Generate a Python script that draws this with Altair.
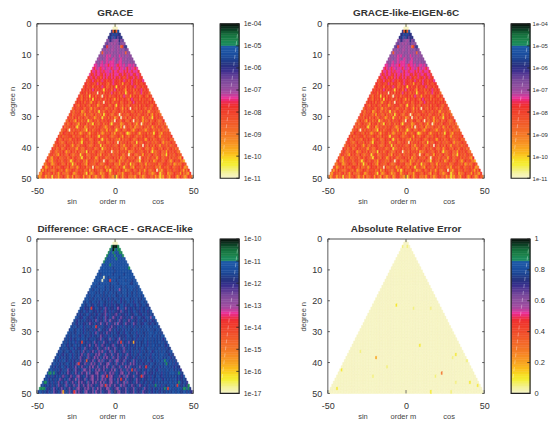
import altair as alt
import pandas as pd

# Colour bar, bottom to top (64 bands)
PALETTE = ["#f6f4c4","#f5f3b0","#f4f29a","#f3f07e","#f3ef5c","#f4ee3c","#f5e92c","#f7e226",
"#f9d520","#fbc81c","#fbbb1c","#fab01d","#f9a61f","#f89e20","#f89522","#f78d23",
"#f68525","#f57e26","#f57727","#f47028","#f36a28","#f36429","#f25e29","#f2582a",
"#f1522a","#f14c2b","#f0462b","#f0402c","#ef3a2c","#ef342d","#ee2f36","#ee2c50",
"#ec2d78","#e8329a","#c7409c","#ac479e","#9e4b9f","#954d9f","#8d4e9e","#854c9d",
"#7a479a","#6e4298","#5f3c95","#503692","#3f3190","#322f8a","#2b3183","#273683",
"#223c8a","#1f4592","#1d4b9a","#1c4f9f","#1c52a2","#1d56a5","#1e5aa8","#1a8a5c",
"#1b8a58","#1a8048","#187a44","#15703c","#115c33","#0e4528","#0b2e1c","#081a10"]

# One letter per cell -> colour band
KEY = {"c":0,"l":3,"y":6,"a":12,"o":19,"f":23,"r":26,"R":29,"p":33,"m":35,"u":38,"v":42,
       "i":46,"d":48,"b":51,"B":53,"g":56,"k":63}
DIFF_KEY = dict(KEY, u=45, m=40, v=47, p=37, o=26)

# Estimated by eye, row by row (degree n = 0..49, order m = -n..n)
GRACE_ROWS = [
"c","ccc","ifkfb","iibibii","iibvbivii","uuivu umuiu v","uvuum umuuv uuu",
"vvRmu umuum uoRvi","uuumu ummuu muuuu vu","ufmuu mumuu umuum ufuu",
"uuumu pmpuu muupu muumu u","umuuu mpmuu pmuum puumu uuu","muump umpmp ppmum ppumu umuuu",
"ppmup pmppR pppmp Rppmp umppm pu","pRpmp Rppmp ppRpm ppRpp mpRpm ppRp",
"RppRp pRpRp ppmpR ppRpp pRpRp pRppp R","pRRpR ppRRp RppRp RpppR RpRRp RppRR ppR",
"RRpRR pRRfR pRpRR pRpRR pRRfR pRRRp RRpRR","RfRRp RRfRR pRRfR RRpRR RfRRp RRfRp RRfRR Rp",
"RRfRR RfRpR fRRRf oRRpR RRfRa RRfRR pRRfR RfRR","fRRfR RoRRf RRpRR ofRfR RyRRf RRoRR fRRpR fRRfR R",
"RfRrR fRpRf RrRfy RfRRo RpRfR rRfaR RfRoR fRRpR fRr","fRrRo RfRrf RcRfR oRrRf pRfRr oRfRy fRrRf oRfRp",
"RfoRr fRyRf RoRrf cRfRr oRfRR fRoRp rfRaR fRrRo fR","rRfoR rfRoR yRfRr frRoR fRrfa RoRrf RRfoR pRfrR oRfr",
"fRrRf RoRrf aRfRr oRfcR rfRro RfrRo fRrRf oRpRf rRrfR r","RrfoR rfRrf oRrfR aorfR rRfor RfyRr foRrf oRrfr fRoRr fR",
"orRfr rRfoR rfaRo frRrf Roorr fRofR rfaRo RfcRr foRfR rfoRf",
"rfoRf rRaof RrofR orfyR forRf rRofr rRfoR frRro fRfrr oRfRo arfr",
"fRofr rRfor aRfro fRorf oRyfr RfooR rfcoR frofR rrfRo frRfr oRfaR f",
"RfroR fRorf RfofR fraor fRyrf RoRfr aofRc rfoRf oRfro fRfar fRofy Rrf",
"ofRfr oaRfr orfRy foRfr ofRoR frRro fcRrf oRRfo fRfcr foRfa rofRo frRfo",
"frofR rfroa RfrRo rfoyR ffoRr orfRo yfRfr faofR rfoRf fafRc orfRf oRRfr of",
"Roffr rfRoy frfRa orffR orfrR ffaor fRRfo fraRc frrof Rafor oRfro fRafr oRrfo",
"ofrRo cfroR ffrfo oyRfr ofrrR forfa Rorrf yofRf ofrRf oafrR rffoa rfRfo frofR of",
"foRRf rrfoR frfao rfRoa rfrRo rfaor ffRof arrfo rRfya orfrR oafrf Rorff yrRfo arrfr",
"rfRor frrRf oRfff rRrof oRfrr oyRfr frRfo orfRr faRrf orrRf ofroR fRrfr ofRrf arfrf",
"RrofR ffroo RrfRr fafrR roofR rfRfy frorR frrof aRorf frRro ofRrf RoarR frofr Rffor f",
"fRrfo orRff roRfr foyRr frrof Rrfar frRoo rfRff cRorr fRfro fRyrf orRrf fRoro frRfa rof",
"orfRf frorR rfafR oorfr Rrfoo fRfrr yRofr rfRff orRof arrfR roofR frcRf oRfro RffaR frorf",
"Rfrof RoorR frffr oaRfo orRfr fRoof rRyfo rfRor rffRo orafR rfoRf rofRr oofRa frRff oRrfo r",
"frRoo frfRr afoRf roRff ooryR frofR rfoof RfrRc orfoR frrfR aoofr Rfrof RroRf yfofr Rfora Rfr",
"oRrff oaRfr rofRf oorfR yfrRo ofrrf RofaR frrof Rorff RrooR fcfrR oofrf aRfro rRfof rRoof yRffr",
"rfoaR frRof frrof RorRf foyrR ffoRr faoRf rRoof frRfr oRafo rRfff oRroc fRfro fRorf arRfo rfRor ff",
"fRooa rfRfr ofRrf oyorR ffrRo farRf rofoR rfcfR rooff Rrafo fRorr fRfoo yrRff oRfra ofRrf orRfo afRr",
"oorRf aofrR rfofR orfyf oRrRf foaRr fforR foofr RrfrR oofaf RrofR yfofr Rforf aRorf rfRoo frRrf foRao f",
"Rfaor fRorf ofRRr foRoo frafR rfRof frcRo ofrfR afoRr frooR ffyrf RooaR rfrof Rorfr fRoof aRrff orRfo rfRo",
"faroR ffoof Rrfor Raoff RrfoR frrof RafoR rffoo Rrafy oRffr oRrfa oofRf orRof rafRo ofrRc foafR roffR orfRf",
"oaRrf forRo rfafR ofoor Rfaof Rrrfo yRfao fRrfa oorRf afrrR oofaf Rrrof Rfroa RforR ofaof Rryof rRaoo fRrfr aRof",
"oaoRf afory Rofaf fRroa fraRo ofrRa rfoaR foaff RaorR fooaf yoRfa frRoo ofarR ofaof RrfoR afoyo aRfoa rrRfa oRfoa oRr",
]

DIFF_ROWS = [
"c","ccc","gkkkg","gbkgb gg","gbbgb bbgg","gbbbb gbbbb g","gbbbb bbgbb bbb",
"gbbbb bbbbb bbbbb","bbbbb gbbbb bbbbb bb","bbBbb bbbdb bbbBb bbbg",
"bbbbB bbbbb dbbbb bbbbb b","bbdbb bbBbb dbbbb bbdbb bbb","bbbbb cbbdb bbbbb dbbbB bbbbb",
"bbbbb cbbbd bbbbd bbbbb dbbbd bb","bBbbd bbbbb bdbbb bdbbb Bbbbd vb",
"bbbdb bbBbd bbvbd bbbbd bbdbb Bbbbd b","bbdbb bdbbb dbbvb dbbbp dbbbd bbBdb dbb",
"dbbbb dbdbb vbbdb bdbvb bdbbb dbbvb bdbbb","bbdbb dbbbd bvbdb bdbbv dbbdb bvbbd bbdbb db",
"bbbdb vbbdb bvbdb ubdvb bdbub dbbbv bdbbd bvbbd","bdbbv dbbdb ubbdv bdbub vdbbu bdvbb dbubb dvbbd b",
"bbdvb bdubb vdbbu dbvbu dbuvd bbubd vbbdu bbvdb bdv","bdbud vbbud bbvud bmubd vubdv ubbdm vbudb vdbub dvbbd",
"bdvbb udbbv dubvd bumvd bubvd uvmbd uvbdu bbvdu bdvbu db","dbubv dbbud vbvub duvmb ubvdu mvbdu vbubd vubbd vubdb vdb",
"bbdvu bbdvu bdvub duvbm uvbdp uvbum vdubv bmdvu bbdvu bbdvb","bdubv bdbuv dubvm bduvb mubpv duvbm uvbdv mubdv ubvdb uvbdb uv",
"dbvub dbuvb dmuvb duvpb uvmdb uvmbp duvbm uvdbm uvbdv ubbdv ubdvb",
"bdbbv dbbub dbdvb bdubd bvdub umdvu bdbub dvbdb ubddb vbdbb dbdbb",
"dbbdv bbdbu bvddb ubdvm bdvub upvdb ubvdb ubdbd vbbdb vbdbd bbdbd",
"bbdbd vbbdb ubdbv dbumb dvubv mdubv bduvb dubbd vbdbu bdbdv bdbbb d",
"bdbvb bdbdu bbvdb dubdv bdmuv bubdb vdbub vddub bdvbb dubdb vbdbb db",
"dbdbu bdvbb dbbdb vubdb dvumb duvbm dbuvb pdvbu bdbvd bubdb vbbdb dbdb",
"bdbvb dbbub dvbbd ubvdb mdubv bmduv budvb muvbd ubmdv bubdb vdbbu bdbdb db",
"dbbdu bdvbb dbubd vbumd bvmub dmuvb dvumb duvbm dbubv dbubd bvbdb ubdbb dbd",
"bdbdb vdbbu bdvub bmdvu bduvm bvdum bpvdu mbvdu bmvdb ubvdb dubbd vbbdb dbdb",
"dbbvd bbdub bvdbu bmvdb uvmdb umvpd buvmb dmuvb dumvb dubvb dbubd bvdbb udbbd b",
"bdbdu bvdbb ubdvb umdbv mubdv mupvd bmuvd mbuvm dbuvb mdubv bdubb dvbdb ubbdb dbb",
"dbbub dbvdb bubdv bmudv bmuvd pumvb dmupv dbmuv mbduv mbduv bdubv bdbvb dubdb bdbbd b",
"bdbvb dbbud bvbud bvmdu bmvdu mbvup dmbuv dmuvb pmduv mbuvd bmubv dubdv bbdub dbbdb bgb",
"dbbdb ubdvb bdubv dmbuv dmubv pdmuv bmduv mpbuv dmbuv mdbuv pdmub vdbuv bdubb dvbdb bdbg",
"bdbub dvbbd ubdvb umdbv mudbv mupdv mbuvm dpuvb mduvm bdupv mbduv bdmub vdubb dvbdb ubdbb d",
"dbbvb dbuvb dbmud vbmuv dbmpu vmdbu mvpdu mvbdu mvpbd umvbd mubvd mubdv bdubb vdbdu bbdbd bb",
"bbdbg bdvub dbvmu dbvmu bdmuv pbmdv umpvd bumvd pumvb dumpv bdmuv bdmuv dbmub vdubv bdbub dbdbb",
"bdbvb dubdb vmubd vmubd mpuvb dmuvm pdumv bpmuv dmpuv bdmuv mbpdu vmbdu vbmud vbubd vbbdu bdbdb d",
"dbbub dvbdb muvbd bmuvd pbmuv dmbuv mpdum vbpum vdpmu bvmdp uvmbd uvdbm uvdbu vdbub vbdbb dubdb db",
"bdgbv dbubd mvbdu mbvdm ubvpd muvbm dupvm dupvm budmp vubmd uvpbm duvbd muvbd ubvdb dubdb vbdbb dbbdb",
"dbdvb dubvd bmuvd bmubv dmubp vdmuv pdmuv bdump vbmup vdmuv bpdmu vbdmu vdbmu vbdub vbdgb dbubd vbdbb db",
"bdggb uvdbm ubvdm ubdvm uvbdm puvdm upvdm bupvm duvpm bduvm pbduv mbduv mbduv dbmuv bdubv dbubd gbdbb dbdbb",
"dbbvb dubdb muvbd muvbd mbuvp dmuvb mpduv mbpuv mbduv pmbdu vmpdu vmbdu vmbdu vbmud vbdub vbdub dvbdb dbbdb bd",
]

# Isolated cells of the difference panel
DIFF_M = [-41,-42,-45,-47,-48,41,47,47,12,-12,4,-21,-23,-18,4,-5,17,-6,-33,-26,34,23,40,20,11,-3,-15,2]
DIFF_N = [43,43,46,48,48,40,47,48,33,28,33,33,40,39,45,44,44,47,49,49,48,25,47,41,42,13,22,22]
DIFF_L = ["g","g","g","g","g","g","g","g","a","R","R","R","R","o","R","R","R","R","a","R","R","p","R","R","R","R","R","p"]

ERROR_M = [-2,1,-6,5,16,9,-29,-19,32,30,39,-12,-41,-21,19,23,32,41,46,-44,16,29]
ERROR_N = [2,2,21,22,22,34,36,38,37,38,39,41,42,44,44,43,46,46,47,48,49,49]
ERROR_L = ["l","l","y","l","l","y","l","a","y","l","l","l","y","l","l","o","l","y","y","y","y","l"]

X_TICKS = [-50, 0, 50]
Y_TICKS = [0, 10, 20, 30, 40, 50]
AXIS_TITLE = "sin" + "\u00a0" * 11 + "order m" + "\u00a0" * 13 + "cos"
FONT = "Liberation Sans"
NB = len(PALETTE)
BAR_W = 19
PLOT_W = 157
PLOT_H = 155
X_LABEL = "datum.value < 0 ? '-' + abs(datum.value) : '' + datum.value"
SEAM = 0.5


def cells(rows, lo, hi, key=KEY, extra=()):
    fix = {(m, n): l for m, n, l in extra}
    out = []
    for n in range(50):
        s = rows[n].replace(" ", "")
        need = 2 * n + 1
        while len(s) < need:
            s = s + s
        for i in range(need):
            m = -n + i
            band = key[fix.get((m, n), s[i])]
            out.append({"m0": m - 0.5, "m1": m + 0.5, "n0": n, "n1": n + 1,
                        "v": lo + (hi - lo) * (band + 0.5) / NB})
    return pd.DataFrame(out)


def panel(df, title, lo, hi, frame_col, frame_w):
    xs = alt.Scale(domain=[-50, 50], nice=False, zero=False)
    ys = alt.Scale(domain=[0, 50], reverse=True, nice=False, zero=False)
    cs = alt.Scale(type="quantize", domain=[lo, hi], range=PALETTE)
    xa = alt.Axis(values=X_TICKS, ticks=False, domain=False, grid=False, labelFlush=False,
                  labelFontSize=9, labelColor="#333", labelFont=FONT, labelPadding=8, labelExpr=X_LABEL,
                  labelOverlap=False, title=AXIS_TITLE, titleFont=FONT, titleFontSize=7.5,
                  titleFontWeight="normal", titleColor="#444", titlePadding=2)
    ya = alt.Axis(values=Y_TICKS, ticks=False, domain=False, grid=False, labelFlush=False,
                  labelFontSize=9, labelColor="#333", labelFont=FONT, labelPadding=6, labelOverlap=False,
                  title="degree n", titleFont=FONT, titleFontSize=7.5, titleFontWeight="normal",
                  titleColor="#444", titlePadding=4)
    X = lambda f: alt.X(f, scale=xs, axis=xa)
    Y = lambda f: alt.Y(f, scale=ys, axis=ya)
    base = alt.Chart(df).mark_rect(strokeWidth=SEAM).encode(
        x=X("m0:Q"), x2="m1:Q", y=Y("n0:Q"), y2="n1:Q",
        color=alt.Color("v:Q", scale=cs, legend=None),
        stroke=alt.Stroke("v:Q", scale=cs, legend=None),
    )
    edge = pd.DataFrame({"a": [-50, -50, 50], "b": [50, -50, 50], "c": [0, 0, 0], "d": [0, 50, 50]})
    top = alt.Chart(edge.iloc[[0]]).mark_rule(color=frame_col, strokeWidth=frame_w).encode(
        x=X("a:Q"), x2="b:Q", y=Y("c:Q"))
    sides = alt.Chart(edge.iloc[[1, 2]]).mark_rule(color="#777", strokeWidth=1.2).encode(
        x=X("a:Q"), y=Y("c:Q"), y2="d:Q")
    yt = pd.DataFrame({"n": Y_TICKS * 2, "m": [-50] * 6 + [50] * 6, "e": [-48.7] * 6 + [48.7] * 6})
    yticks = alt.Chart(yt).mark_rule(color="#333", strokeWidth=0.8).encode(
        x=X("m:Q"), x2="e:Q", y=Y("n:Q"))
    xt = pd.DataFrame({"m": X_TICKS * 2, "n": [50] * 3 + [0] * 3, "e": [48.9] * 3 + [1.0] * 3})
    xticks = alt.Chart(xt).mark_rule(color="#555", strokeWidth=0.8).encode(
        x=X("m:Q"), y=Y("n:Q"), y2="e:Q")
    return alt.layer(base, top, sides, yticks, xticks).properties(
        width=PLOT_W, height=PLOT_H,
        title=alt.TitleParams(title, fontSize=10, fontWeight="bold", font=FONT, color="#333", offset=1.5))


def colorbar(lo, hi, values, expr, size, cell, pad=4):
    ys = alt.Scale(domain=[lo, hi], nice=False, zero=False)
    xs = alt.Scale(domain=[0, cell / BAR_W], nice=False, zero=False)
    cs = alt.Scale(type="quantize", domain=[lo, hi], range=PALETTE)
    ya = alt.Axis(orient="right", offset=BAR_W - cell, values=values, labelFlush=False,
                  labelExpr=expr, ticks=False, domain=False, grid=False, labelFontSize=size, labelFont=FONT,
                  labelColor="#333", labelPadding=pad, labelOverlap=False, title=None)
    xa = alt.Axis(labels=False, ticks=False, domain=False, grid=False, title=None)
    X = lambda f: alt.X(f, scale=xs, axis=xa)
    Y = lambda f: alt.Y(f, scale=ys, axis=ya)
    step = (hi - lo) / NB
    bands = pd.DataFrame({"y0": [lo + i * step for i in range(NB)],
                          "y1": [lo + (i + 1) * step for i in range(NB)],
                          "v": [lo + (i + 0.5) * step for i in range(NB)],
                          "x0": [0] * NB, "x1": [1] * NB})
    bar = alt.Chart(bands).mark_rect(strokeWidth=SEAM).encode(
        x=X("x0:Q"), x2="x1:Q", y=Y("y0:Q"), y2="y1:Q",
        color=alt.Color("v:Q", scale=cs, legend=None),
        stroke=alt.Stroke("v:Q", scale=cs, legend=None),
    )
    diag = pd.DataFrame({"x": [0.1, 0.95], "y": [lo + 0.1 * (hi - lo), lo + 0.97 * (hi - lo)]})
    line = alt.Chart(diag).mark_line(color="white", opacity=0.35, strokeWidth=1, strokeDash=[4, 3]).encode(
        x=X("x:Q"), y=Y("y:Q"))
    tk = pd.DataFrame({"y": values, "a": [0.85] * len(values), "b": [1] * len(values)})
    ticks = alt.Chart(tk).mark_rule(color="#222", strokeWidth=0.8).encode(
        x=X("a:Q"), x2="b:Q", y=Y("y:Q"))
    fr = pd.DataFrame({"x0": [0], "x1": [1], "y0": [lo], "y1": [hi]})
    frame = alt.Chart(fr).mark_rect(fill="transparent", stroke="#222", strokeWidth=1.2).encode(
        x=X("x0:Q"), x2="x1:Q", y=Y("y0:Q"), y2="y1:Q")
    return alt.layer(bar, line, ticks, frame).properties(width=cell, height=PLOT_H)


EXP_LABEL = "'1e-' + (abs(datum.value) < 10 ? '0' : '') + abs(datum.value)"
d1 = cells(GRACE_ROWS, -11, -4)
d3 = cells(DIFF_ROWS, -17, -10, DIFF_KEY, list(zip(DIFF_M, DIFF_N, DIFF_L)))
d4 = cells(["c" * (2 * n + 1) for n in range(50)], 0, 1, KEY, list(zip(ERROR_M, ERROR_N, ERROR_L)))

chart = alt.concat(
    panel(d1, "GRACE", -11, -4, "#222", 1), colorbar(-11, -4, list(range(-11, -3)), EXP_LABEL, 7, 81),
    panel(d1, "GRACE-like-EIGEN-6C", -11, -4, "#222", 1), colorbar(-11, -4, list(range(-11, -3)), EXP_LABEL, 6, 20, 2),
    panel(d3, "Difference: GRACE - GRACE-like", -17, -10, "#888", 1.6),
    colorbar(-17, -10, list(range(-17, -9)), EXP_LABEL, 7, 81),
    panel(d4, "Absolute Relative Error", 0, 1, "#888", 1.6),
    colorbar(0, 1, [0, 0.2, 0.4, 0.6, 0.8, 1], "format(datum.value, '~g')", 7.5, 20),
    columns=4, spacing=alt.RowColnumber(row=61, column=27), bounds="flush",
).resolve_scale(color="independent", stroke="independent").properties(
    padding={"left": 0, "top": -0.9, "right": 0, "bottom": 0}, background="white"
).configure_view(stroke=None)

chart.save("out.html", embed_options={"renderer": "svg", "actions": False})
